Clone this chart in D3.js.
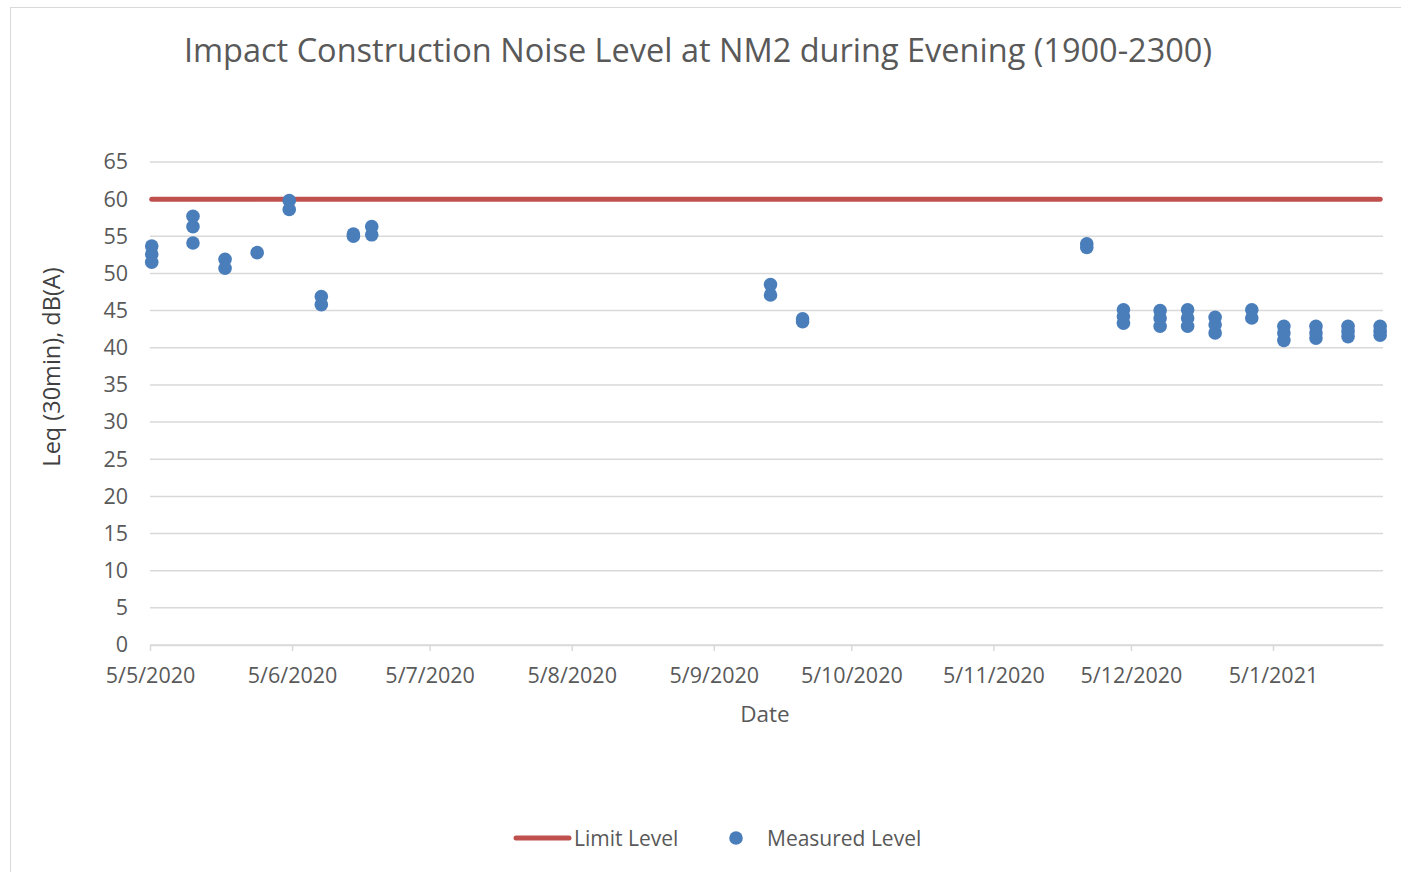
<!DOCTYPE html>
<html>
<head>
<meta charset="utf-8">
<script src="https://cdn.jsdelivr.net/npm/d3@7"></script>
<style>
  body { margin: 0; background: #fff; }
  svg { display: block; font-family: "Open Sans", sans-serif; }
</style>
</head>
<body>
<svg width="1401" height="872"></svg>
<script>
const width = 1401;
const height = 872;

// measured points (day/month/year dates as on the axis)
const sampleDates = [
  "5/5/2020", "5/5/2020", "5/5/2020",
  "14/5/2020", "14/5/2020", "14/5/2020",
  "21/5/2020", "21/5/2020",
  "28/5/2020",
  "4/6/2020", "4/6/2020",
  "11/6/2020", "11/6/2020",
  "18/6/2020", "18/6/2020",
  "22/6/2020", "22/6/2020",
  "17/9/2020", "17/9/2020",
  "24/9/2020", "24/9/2020",
  "25/11/2020", "25/11/2020",
  "3/12/2020", "3/12/2020", "3/12/2020",
  "11/12/2020", "11/12/2020", "11/12/2020",
  "17/12/2020", "17/12/2020", "17/12/2020",
  "23/12/2020", "23/12/2020", "23/12/2020",
  "31/12/2020", "31/12/2020",
  "7/1/2021", "7/1/2021", "7/1/2021",
  "14/1/2021", "14/1/2021", "14/1/2021",
  "21/1/2021", "21/1/2021", "21/1/2021",
  "28/1/2021", "28/1/2021", "28/1/2021"
];
const measuredLevels = [
  53.7, 52.6, 51.5,
  57.7, 56.3, 54.1,
  51.9, 50.7,
  52.8,
  59.8, 58.6,
  46.9, 45.8,
  55.3, 55.0,
  56.3, 55.2,
  48.5, 47.1,
  43.9, 43.5,
  54.0, 53.5,
  45.1, 44.2, 43.3,
  45.0, 44.0, 42.9,
  45.1, 44.0, 42.9,
  44.1, 43.1, 42.0,
  45.1, 44.0,
  42.9, 42.0, 41.0,
  42.9, 42.0, 41.3,
  42.9, 42.2, 41.5,
  42.9, 42.2, 41.7
];
const limitLevel = 60;

const xTickLabels = ["5/5/2020", "5/6/2020", "5/7/2020", "5/8/2020", "5/9/2020",
  "5/10/2020", "5/11/2020", "5/12/2020", "5/1/2021"];
const yTicks = [0, 5, 10, 15, 20, 25, 30, 35, 40, 45, 50, 55, 60, 65];
const axisEnd = "29/1/2021";

const parse = d3.timeParse("%d/%m/%Y");
const fmt = d3.timeFormat("%-d/%-m/%Y");

// evening readings sit a little past midnight of their date
const shift = d => d3.timeHour.offset(parse(d), 9);
const points = sampleDates.map((d, i) => ({ date: shift(d), value: measuredLevels[i] }));
const limitData = Array.from(new Set(sampleDates)).map(d => ({ date: shift(d), value: limitLevel }));

const margin = { left: 150, right: 18, top: 162, bottom: 227 };
const x = d3.scaleTime()
  .domain([parse(xTickLabels[0]), parse(axisEnd)])
  .range([margin.left, width - margin.right]);
const y = d3.scaleLinear()
  .domain([0, 65])
  .range([height - margin.bottom, margin.top]);

const textColor = "#595959";
const gridColor = "#d9d9d9";

const svg = d3.select("svg");

// chart border
svg.append("rect")
  .attr("x", 10.5).attr("y", 7.5)
  .attr("width", 1400).attr("height", 880)
  .attr("fill", "none")
  .attr("stroke", gridColor);

// title
svg.append("text")
  .attr("x", 698).attr("y", 62)
  .attr("text-anchor", "middle")
  .attr("font-size", 32.5)
  .attr("fill", textColor)
  .text("Impact Construction Noise Level at NM2 during Evening (1900-2300)");

// gridlines
svg.append("g")
  .selectAll("line")
  .data(yTicks)
  .enter().append("line")
  .attr("x1", x.range()[0]).attr("x2", x.range()[1])
  .attr("y1", d => y(d)).attr("y2", d => y(d))
  .attr("stroke", gridColor)
  .attr("stroke-width", 1.5);

// y axis labels
const yAxis = svg.append("g")
  .attr("transform", "translate(" + margin.left + ",0)")
  .call(d3.axisLeft(y).tickValues(yTicks).tickSize(0).tickPadding(22));
yAxis.select(".domain").remove();
yAxis.selectAll("text")
  .attr("font-size", 21.5)
  .attr("font-family", "Open Sans, sans-serif")
  .attr("fill", textColor);

// x axis
const xAxis = svg.append("g")
  .attr("transform", "translate(0," + y(0) + ")")
  .call(d3.axisBottom(x)
    .tickValues(xTickLabels.map(parse))
    .tickFormat(fmt)
    .tickSize(6)
    .tickPadding(17)
    .tickSizeOuter(0));
xAxis.select(".domain").attr("stroke", gridColor).attr("stroke-width", 1.5);
xAxis.selectAll(".tick line").attr("stroke", gridColor).attr("stroke-width", 1.5);
xAxis.selectAll("text")
  .attr("font-size", 21.5)
  .attr("font-family", "Open Sans, sans-serif")
  .attr("fill", textColor);

// axis titles
svg.append("text")
  .attr("x", 765).attr("y", 722)
  .attr("text-anchor", "middle")
  .attr("font-size", 22.5)
  .attr("fill", textColor)
  .text("Date");

svg.append("text")
  .attr("transform", "translate(60,367) rotate(-90)")
  .attr("text-anchor", "middle")
  .attr("font-size", 23.5)
  .attr("fill", "#404040")
  .text("Leq (30min), dB(A)");

// limit line
const line = d3.line()
  .x(d => x(d.date))
  .y(d => y(d.value));

svg.append("path")
  .datum(limitData)
  .attr("d", line)
  .attr("fill", "none")
  .attr("stroke", "#c0504d")
  .attr("stroke-width", 5)
  .attr("stroke-linecap", "round");

// measured points
svg.append("g")
  .selectAll("circle")
  .data(points)
  .enter().append("circle")
  .attr("cx", d => x(d.date))
  .attr("cy", d => y(d.value))
  .attr("r", 6.8)
  .attr("fill", "#4a7ebb");

// legend
const legend = svg.append("g");
legend.append("line")
  .attr("x1", 516).attr("x2", 569)
  .attr("y1", 838).attr("y2", 838)
  .attr("stroke", "#c0504d")
  .attr("stroke-width", 5)
  .attr("stroke-linecap", "round");
legend.append("text")
  .attr("x", 574).attr("y", 846)
  .attr("font-size", 21)
  .attr("fill", textColor)
  .text("Limit Level");
legend.append("circle")
  .attr("cx", 736).attr("cy", 838)
  .attr("r", 6.8)
  .attr("fill", "#4a7ebb");
legend.append("text")
  .attr("x", 767).attr("y", 846)
  .attr("font-size", 21)
  .attr("fill", textColor)
  .text("Measured Level");
</script>
</body>
</html>
